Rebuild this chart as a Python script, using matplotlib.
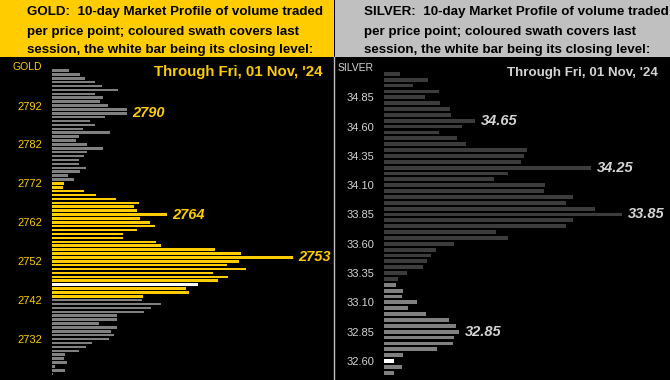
import matplotlib.pyplot as plt
from matplotlib.patches import Rectangle
from matplotlib.lines import Line2D

plt.rcParams['font.family'] = ['Liberation Sans', 'DejaVu Sans']

# gold: price ladder top -> bottom, volume per price point
gold_prices = list(range(2801, 2722, -1))
gold_volume = [17, 28, 33, 43, 50, 66, 43, 51, 48, 56,
               75, 75, 53, 38, 43, 31, 58, 27, 24, 35,
               51, 35, 32, 27, 27, 34, 28, 16, 22, 12,
               11, 32, 44, 64, 87, 82, 85, 115, 88, 98,
               103, 85, 71, 71, 104, 109, 163, 189, 241, 187,
               175, 194, 161, 176, 166, 146, 134, 137, 91, 90,
               109, 99, 92, 65, 65, 47, 65, 59, 62, 57,
               40, 34, 27, 13, 12, 15, 3, 13, 1]
gold_session = (2743, 2772)
gold_close = 2746
gold_ticks = [2792, 2782, 2772, 2762, 2752, 2742, 2732]
gold_peaks = [2790, 2764, 2753]

# silver
silver_prices = [round(35.05 - 0.05 * i, 2) for i in range(52)]
silver_volume = [16, 44, 29, 55, 41, 56, 66, 67, 91, 78,
                 55, 73, 82, 143, 140, 137, 207, 124, 110, 161,
                 160, 189, 182, 211, 238, 189, 182, 112, 124, 70,
                 52, 47, 43, 39, 23, 14, 12, 19, 18, 33,
                 24, 42, 65, 72, 75, 70, 69, 53, 19, 10,
                 18, 10]
silver_session = (32.50, 33.25)
silver_close = 32.60
silver_ticks = [34.85, 34.60, 34.35, 34.10, 33.85, 33.60, 33.35, 33.10, 32.85, 32.60]
silver_peaks = [34.65, 34.25, 33.85, 32.85]

W, H = 670, 380
GOLD_Y = '#ffcc00'
SILVER_T = '#d4d4d4'

fig = plt.figure(figsize=(W / 100, H / 100), dpi=100, facecolor='black')


def px(x0, y0, x1, y1):
    # pixel box (top-left origin) -> figure fractions
    return [x0 / W, 1 - y1 / H, (x1 - x0) / W, (y1 - y0) / H]


def panel(box, prices, volume, step, session, close, ticks, peaks,
          base_col, swath_col, txt_col, xmax, ylim, fmt):
    ax = fig.add_axes(box)
    ax.set_facecolor('black')
    cols = []
    for p in prices:
        if abs(p - close) < 1e-6:
            cols.append('white')
        elif session[0] - 1e-6 <= p <= session[1] + 1e-6:
            cols.append(swath_col)
        else:
            cols.append(base_col)
    ax.barh(prices, volume, height=step * 0.65, color=cols, linewidth=0)
    ax.set_xlim(0, xmax)
    ax.set_ylim(*ylim)
    ax.set_xticks([])
    ax.set_yticks(ticks)
    ax.set_yticklabels([fmt.format(t) for t in ticks])
    ax.tick_params(axis='y', length=0, pad=7, labelsize=8, labelcolor=txt_col)
    for s in ax.spines.values():
        s.set_visible(False)
    for p in peaks:
        i = min(range(len(prices)), key=lambda k: abs(prices[k] - p))
        ax.annotate(fmt.format(p), (volume[i], prices[i]), xytext=(4, 0),
                    textcoords='offset points', va='center', ha='left',
                    fontsize=10.5, fontweight='bold', style='italic', color=txt_col)
    return ax


panel(px(52, 58, 334, 380), gold_prices, gold_volume, 1, gold_session, gold_close,
      gold_ticks, gold_peaks, '#808080', GOLD_Y, GOLD_Y, 282, (2721.5, 2804.2), '{:d}')
panel(px(384, 58, 670, 380), silver_prices, silver_volume, 0.05, silver_session, silver_close,
      silver_ticks, silver_peaks, '#3c3c3c', '#808080', SILVER_T, 286, (32.438, 35.185), '{:.2f}')

# headers
fig.patches.append(Rectangle((0, 1 - 57 / H), 334 / W, 57 / H, transform=fig.transFigure,
                             facecolor=GOLD_Y, edgecolor='none'))
fig.patches.append(Rectangle((334.5 / W, 1 - 57 / H), 1 - 334.5 / W, 57 / H,
                             transform=fig.transFigure, facecolor='#c0c0c0', edgecolor='none'))
fig.add_artist(Line2D([334 / W, 334 / W], [0, 1 - 57 / H], transform=fig.transFigure,
                      color='#c0c0c0', linewidth=1))

tail = ["  10-day Market Profile of volume traded",
        "per price point; coloured swath covers last",
        "session, the white bar being its closing level:"]
for x0, name in [(27, 'GOLD:'), (364, 'SILVER:')]:
    lines = [name + tail[0], tail[1], tail[2]]
    for yb, line in zip([15, 34.5, 53.5], lines):
        fig.text(x0 / W, 1 - yb / H, line, ha='left', va='baseline',
                 fontsize=9.6, fontweight='bold', color='black')

fig.text(42 / W, 1 - 67 / H, 'GOLD', ha='right', va='center', fontsize=7.5, color=GOLD_Y)
fig.text(374 / W, 1 - 68 / H, 'SILVER', ha='right', va='center', fontsize=7.5, color=SILVER_T)

fig.text(323 / W, 1 - 76 / H, "Through Fri, 01 Nov, '24", ha='right', va='baseline',
         fontsize=10.8, fontweight='bold', color=GOLD_Y)
fig.text(658 / W, 1 - 76 / H, "Through Fri, 01 Nov, '24", ha='right', va='baseline',
         fontsize=9.6, fontweight='bold', color=SILVER_T)

fig.savefig('out.png', dpi=100, facecolor='black')
